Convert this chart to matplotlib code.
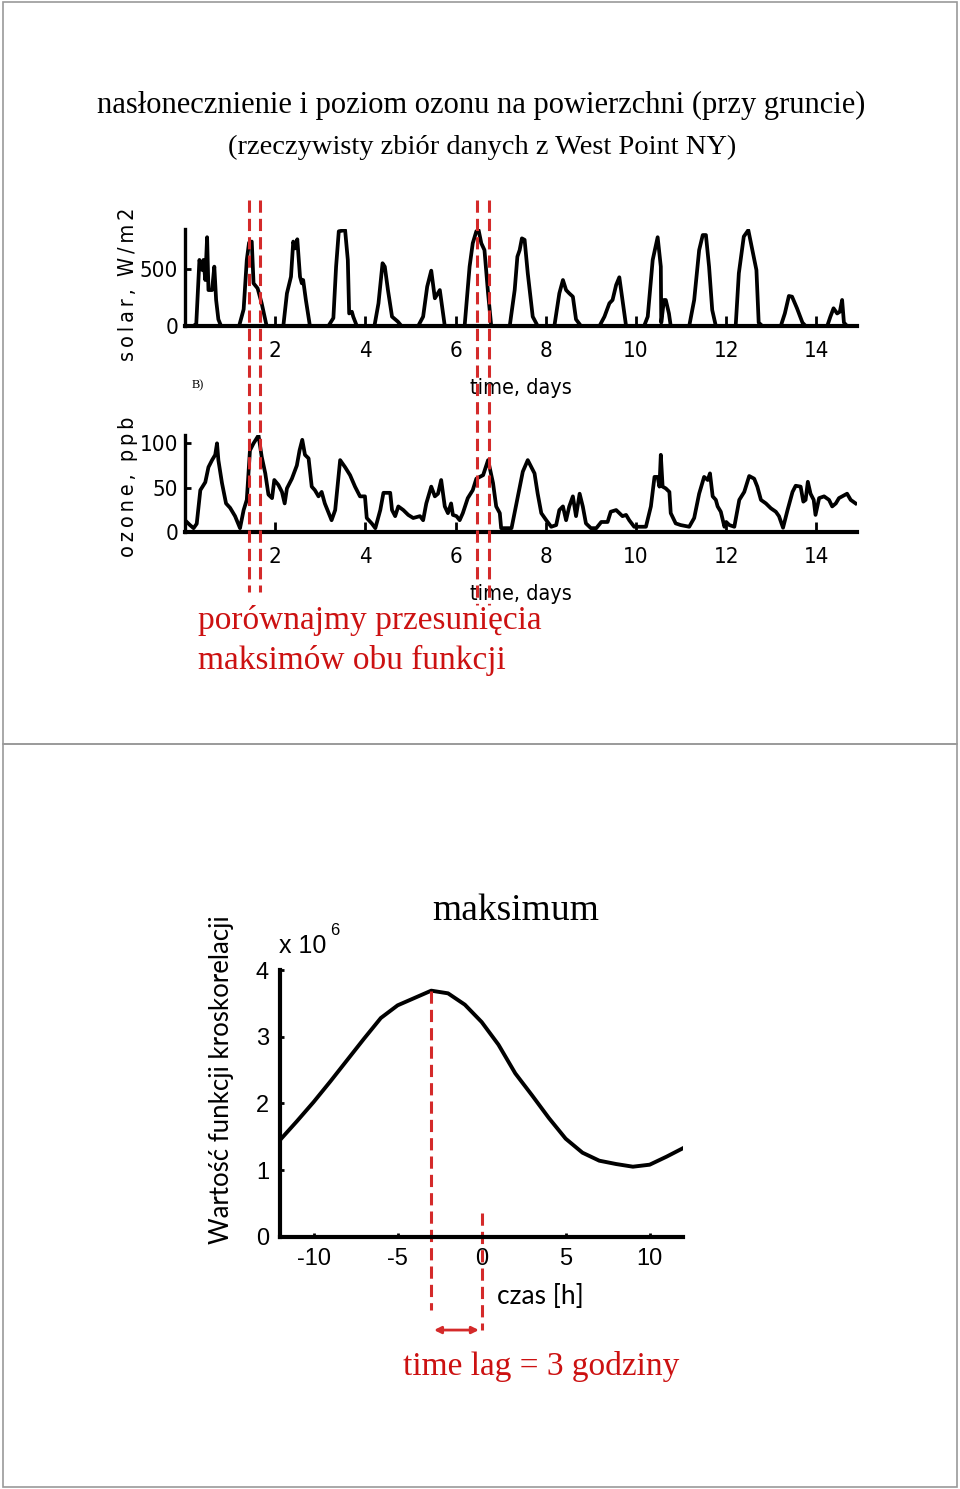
import numpy as np
import matplotlib
matplotlib.use("Agg")
import matplotlib.pyplot as plt
from matplotlib.transforms import blended_transform_factory
from matplotlib.patches import Rectangle, FancyArrowPatch

plt.rcParams['axes.unicode_minus'] = False

# solar radiation, W/m2
solar_day = [0.04, 0.19, 0.25, 0.32, 0.38, 0.41, 0.45, 0.49, 0.52, 0.60, 0.65, 0.69, 0.74, 0.80,
             1.20, 1.30, 1.37, 1.42, 1.48, 1.52, 1.61, 1.70, 1.81,
             2.18, 2.26, 2.35, 2.40, 2.44, 2.49, 2.55, 2.59, 2.62, 2.68, 2.77,
             3.18, 3.29, 3.35, 3.41, 3.55, 3.61, 3.64, 3.70, 3.73, 3.81,
             4.20, 4.29, 4.38, 4.43, 4.50, 4.59, 4.72, 4.80,
             5.17, 5.28, 5.37, 5.46, 5.54, 5.65, 5.76,
             6.20, 6.31, 6.38, 6.46, 6.51, 6.57, 6.64, 6.72, 6.79,
             7.20, 7.31, 7.37, 7.42, 7.47, 7.53, 7.60, 7.71, 7.82,
             8.19, 8.30, 8.38, 8.45, 8.52, 8.60, 8.67, 8.78,
             9.19, 9.30, 9.41, 9.48, 9.56, 9.63, 9.70, 9.78,
             10.18, 10.26, 10.37, 10.48, 10.55, 10.56, 10.62, 10.66, 10.73, 10.77,
             11.18, 11.29, 11.40, 11.48, 11.55, 11.62, 11.69, 11.77,
             12.21, 12.28, 12.39, 12.49, 12.58, 12.67, 12.72, 12.80,
             13.21, 13.30, 13.39, 13.46, 13.57, 13.69, 13.76,
             14.24, 14.31, 14.38, 14.46, 14.52, 14.57, 14.61, 14.68, 14.89]
solar_val = [0, 0, 20, 579, 491, 579, 403, 778, 315, 315, 520, 228, 58, 0,
             0, 146, 579, 730, 740, 374, 330, 199, 0,
             0, 286, 432, 740, 680, 760, 432, 374, 403, 228, 0,
             0, 70, 520, 830, 840, 579, 110, 125, 82, 0,
             0, 199, 550, 520, 315, 82, 38, 0,
             0, 82, 345, 485, 243, 315, 0,
             0, 520, 725, 830, 840, 725, 665, 286, 0,
             0, 315, 608, 665, 768, 755, 462, 82, 0,
             0, 286, 403, 315, 286, 257, 58, 0,
             0, 82, 199, 228, 360, 427, 228, 0,
             0, 82, 579, 778, 520, 30, 228, 228, 110, 0,
             0, 228, 665, 797, 797, 520, 140, 0,
             0, 462, 784, 840, 665, 490, 30, 0,
             0, 110, 263, 257, 155, 30, 0,
             0, 82, 155, 110, 125, 228, 30, 0, 0]

# ozone, ppb
ozone_day = [0.04, 0.11, 0.19, 0.26, 0.34, 0.45, 0.52, 0.60, 0.67, 0.71, 0.74, 0.82, 0.91, 1.00,
             1.11, 1.22, 1.30, 1.37, 1.44, 1.52, 1.63, 1.70, 1.78, 1.85, 1.93, 1.98, 2.07,
             2.15, 2.21, 2.26, 2.37, 2.48, 2.54, 2.60, 2.66, 2.74, 2.81, 2.88, 2.96, 3.03,
             3.10, 3.25, 3.33, 3.44, 3.55, 3.66, 3.77, 3.88, 3.99, 4.03, 4.14, 4.22, 4.33,
             4.40, 4.55, 4.59, 4.66, 4.73, 4.84, 4.95, 5.06, 5.21, 5.28, 5.35, 5.46, 5.54,
             5.61, 5.68, 5.76, 5.83, 5.90, 5.94, 6.02, 6.09, 6.16, 6.27, 6.38, 6.46, 6.61,
             6.72, 6.83, 6.90, 6.98, 7.01, 7.24, 7.38, 7.49, 7.60, 7.68, 7.75, 7.82, 7.90,
             8.01, 8.12, 8.23, 8.30, 8.38, 8.45, 8.52, 8.60, 8.67, 8.75, 8.82, 8.89, 9.00,
             9.12, 9.23, 9.37, 9.44, 9.56, 9.63, 9.70, 9.78, 9.85, 9.96, 10.22, 10.33, 10.41,
             10.48, 10.52, 10.55, 10.59, 10.66, 10.74, 10.77, 10.88, 10.99, 11.18, 11.29,
             11.40, 11.51, 11.59, 11.64, 11.70, 11.77, 11.81, 11.88, 11.96, 12.00, 12.07,
             12.18, 12.29, 12.40, 12.51, 12.62, 12.69, 12.77, 12.88, 12.99, 13.10, 13.17,
             13.26, 13.36, 13.47, 13.54, 13.65, 13.71, 13.76, 13.81, 13.87, 13.94, 13.98,
             14.06, 14.17, 14.28, 14.35, 14.43, 14.50, 14.57, 14.68, 14.76, 14.87]
ozone_val = [11, 7.5, 4, 9, 47, 56, 73, 81, 87, 100, 81, 55, 32, 27,
             17.6, 4, 24.5, 36, 92, 100, 109, 85, 66, 42, 38, 58.5, 53,
             45, 32, 49, 60, 75, 92, 104, 87, 83, 51, 47, 40, 45,
             32, 13, 24.5, 81, 73, 64, 51, 40, 40, 15.5, 9.4, 4, 24.5,
             44, 44, 24.5, 17.6, 28.6, 24.5, 19, 15.5, 17.6, 13, 32, 51, 40,
             43, 58.5, 28.6, 21, 32, 19, 17.6, 13, 21, 38, 47, 60, 64,
             81, 55, 28.6, 21, 4, 4, 40, 68, 81, 73, 66, 43, 21,
             13, 5.6, 7.5, 24.5, 28.6, 13, 28.6, 40, 17.6, 43, 28.6, 9.4, 4,
             4, 11, 11, 22.6, 24.5, 21, 17.6, 19, 13, 5.6, 5.6, 28.6, 62,
             62, 51, 87, 51, 49, 45, 21, 9.4, 7.5, 5.6, 15.5,
             43, 62, 58.5, 66, 40, 36, 28.6, 22.6, 5.6, 11, 7.5,
             5.6, 36, 45, 63, 60, 51, 36, 32, 26.5, 22.6, 17.6,
             4.5, 24.5, 45, 52, 51, 34, 36, 56.5, 43, 36, 19,
             38, 40, 36, 28.6, 32, 38, 40, 43, 36, 32]

# cross-correlation (x 10^6) vs lag in hours
lag_h = [-12, -11, -10, -9, -8, -7, -6, -5, -4, -3, -2, -1, 0, 1, 2, 3, 4, 5, 6, 7, 8, 9, 10, 11, 12]
xcorr = [1.45, 1.73, 2.02, 2.33, 2.65, 2.97, 3.28, 3.47, 3.58, 3.69, 3.65, 3.48, 3.22,
         2.88, 2.45, 2.12, 1.78, 1.47, 1.26, 1.14, 1.09, 1.05, 1.08, 1.20, 1.33]

solar_marks = [1.42, 1.66, 6.48, 6.75]
day_ticks = [2, 4, 6, 8, 10, 12, 14]

RED = '#d42a2a'
TXT_RED = '#cc1111'
NARROW = ['DejaVu Sans']
SERIF = ['Liberation Serif', 'DejaVu Serif']
ARIAL = ['Liberation Sans', 'DejaVu Sans']

W, H = 960, 1489
fig = plt.figure(figsize=(W / 100, H / 100), dpi=100)

def fx(px):
    return px / W

def fy(py):
    return 1 - py / H

def narrow(txt, size):
    # condensed sans, close to the narrow font of the original
    txt.set_family(NARROW)
    txt.set_stretch('condensed')
    txt.set_fontsize(size)

# slide frames
for y0, y1 in [(2, 744), (744, 1487)]:
    fig.add_artist(Rectangle((fx(3), fy(y1)), fx(954), (y1 - y0) / H, transform=fig.transFigure,
                             fill=False, edgecolor='#9a9a9a', linewidth=1.2))

fig.text(fx(481), fy(105), 'nasłonecznienie i poziom ozonu na powierzchni (przy gruncie)',
         ha='center', va='center', fontsize=22, family=SERIF)
fig.text(fx(482), fy(147), '(rzeczywisty zbiór danych z West Point NY)',
         ha='center', va='center', fontsize=20.5, family=SERIF)


def style_top(ax, ylim, yticks):
    ax.set_xlim(0, 14.9)
    ax.set_ylim(*ylim)
    for s in ['top', 'right']:
        ax.spines[s].set_visible(False)
    ax.spines['left'].set_linewidth(2.4)
    ax.spines['bottom'].set_linewidth(3.0)
    ax.set_xticks(day_ticks)
    ax.set_yticks(yticks)
    ax.tick_params(axis='x', direction='in', length=7, width=2, pad=11)
    ax.tick_params(axis='y', direction='in', length=4, width=2, pad=5)
    for lab in ax.get_xticklabels() + ax.get_yticklabels():
        narrow(lab, 16)
    ax.set_xlabel('time, days', labelpad=12)
    narrow(ax.xaxis.label, 15.5)
    ax.patch.set_alpha(0)


ax1 = fig.add_axes([fx(185), fy(326), fx(857 - 185), (326 - 229) / H])
ax1.plot(solar_day, solar_val, color='black', linewidth=2.7)
style_top(ax1, (0, 850), [0, 500])
ax1.set_zorder(3)
t = fig.text(fx(128), fy(284), 's\u2009o\u2009l\u2009a\u2009r\u2009,  W\u2009/\u2009m\u20092', rotation=90,
             ha='center', va='center')
narrow(t, 15.5)
fig.text(fx(192), fy(385), 'B)', fontsize=9, family=SERIF, ha='left', va='center')

ax2 = fig.add_axes([fx(185), fy(531.7), fx(857 - 185), (531.7 - 434.5) / H])
ax2.plot(ozone_day, ozone_val, color='black', linewidth=2.7)
style_top(ax2, (0, 110), [0, 50, 100])
t = fig.text(fx(128), fy(487), 'o\u2009z\u2009o\u2009n\u2009e\u2009,  p\u2009p\u2009b', rotation=90,
             ha='center', va='center')
narrow(t, 15.5)

# red dashed markers crossing both panels
trans = blended_transform_factory(ax1.transData, fig.transFigure)
for d, yend in zip(solar_marks, [592, 592, 605, 605]):
    ax1.plot([d, d], [fy(200), fy(yend)], transform=trans, clip_on=False,
             color=RED, linewidth=2.2, dashes=(4, 2))

fig.text(fx(198), fy(620), 'porównajmy przesunięcia', ha='left', va='center',
         fontsize=24, color=TXT_RED, family=SERIF)
fig.text(fx(198), fy(660), 'maksimów obu funkcji', ha='left', va='center',
         fontsize=24, color=TXT_RED, family=SERIF)

# cross-correlation panel
ax3 = fig.add_axes([fx(280), fy(1236.7), fx(683.3 - 280), (1236.7 - 970) / H])
ax3.plot(lag_h, xcorr, color='black', linewidth=2.8)
ax3.set_xlim(-12, 12)
ax3.set_ylim(0, 4)
for s in ['top', 'right']:
    ax3.spines[s].set_visible(False)
ax3.spines['left'].set_linewidth(3)
ax3.spines['bottom'].set_linewidth(3)
ax3.set_xticks([-10, -5, 0, 5, 10])
ax3.set_yticks([0, 1, 2, 3, 4])
ax3.tick_params(direction='in', length=3, width=2, labelsize=17, pad=8)
for lab in ax3.get_xticklabels() + ax3.get_yticklabels():
    lab.set_family(ARIAL)
ax3.patch.set_alpha(0)

imax = int(np.argmax(xcorr))
ax3.plot([lag_h[imax], lag_h[imax]], [xcorr[imax], -1.1], color=RED, linewidth=2.2,
         dashes=(4, 2), clip_on=False)
ax3.plot([0, 0], [0.35, -1.4], color=RED, linewidth=2.2, dashes=(4, 2), clip_on=False)
ax3.add_patch(FancyArrowPatch((lag_h[imax], -1.4), (0, -1.4), arrowstyle='<|-|>',
                              mutation_scale=10, color=RED, linewidth=2, clip_on=False))

fig.text(fx(222), fy(1080), 'Wartość funkcji kroskorelacji', rotation=90, ha='center',
         va='center', fontsize=18.5, family=['Lato', 'DejaVu Sans'])
fig.text(fx(279), fy(946), 'x 10', ha='left', va='center', fontsize=18, family=ARIAL)
fig.text(fx(330), fy(931), '6', ha='left', va='center', fontsize=12, family=ARIAL)
fig.text(fx(516), fy(911), 'maksimum', ha='center', va='center', fontsize=27, family=SERIF)
fig.text(fx(540), fy(1297), 'czas [h]', ha='center', va='center', fontsize=19,
         family=['Lato', 'DejaVu Sans'])
fig.text(fx(541), fy(1367), 'time lag = 3 godziny', ha='center', va='center', fontsize=24,
         color=TXT_RED, family=SERIF)

fig.savefig('out.png', dpi=100)
